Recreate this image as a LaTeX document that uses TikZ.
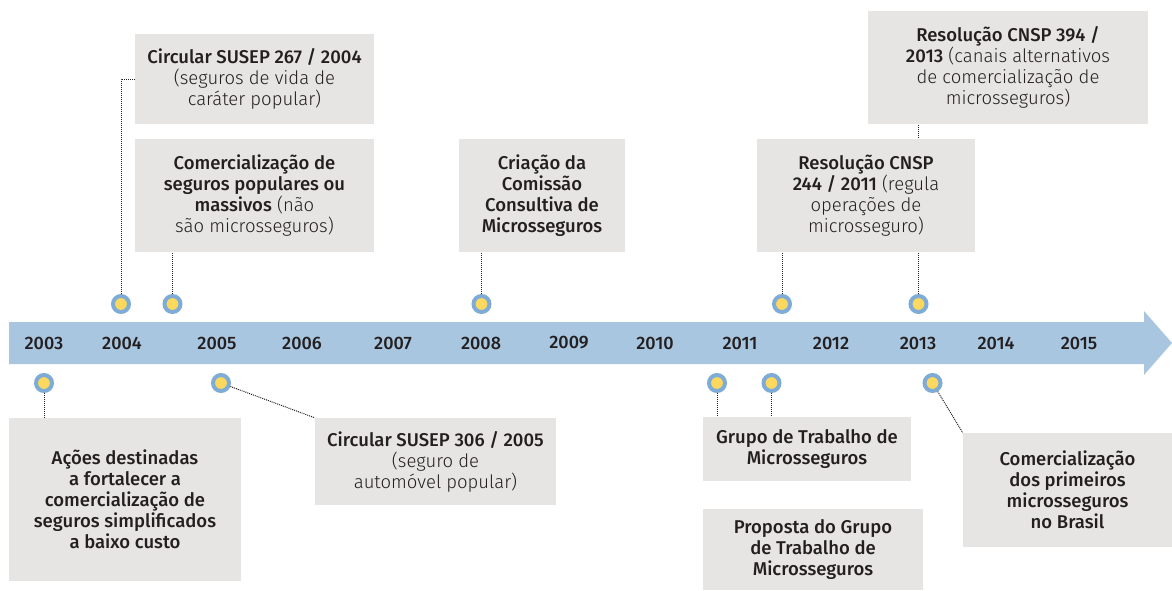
\documentclass[tikz,border=0pt]{standalone}
\usepackage{fontspec}
\setmainfont{Fira Sans}[UprightFont={Fira Sans Light}, BoldFont={Fira Sans Medium}]
\usepackage{xcolor}
\usepackage{tikz}
\usetikzlibrary{positioning, arrows.meta}
\definecolor{bandblue}{HTML}{A9C6E0}
\definecolor{ringblue}{HTML}{7FACD6}
\definecolor{dotyellow}{HTML}{FCD95E}
\definecolor{boxgray}{HTML}{E6E5E3}
\definecolor{inkdark}{HTML}{231F20}

\tikzset{
  infobox/.style={fill=boxgray, inner sep=0pt, align=center, text=inkdark,
    font=\fontsize{18.5pt}{21pt}\selectfont},
  eventdot/.style={circle, fill=dotyellow, draw=ringblue, line width=4pt,
    minimum size=16pt, inner sep=0pt},
  yearlabel/.style={text=inkdark, font=\bfseries\fontsize{18pt}{20pt}\selectfont},
  leader/.style={inkdark, line width=1pt, dash pattern=on 1pt off 1pt}
}

\begin{document}
\begin{tikzpicture}[x=1pt, y=-1pt]
    \useasboundingbox (0,0) rectangle (1172,590);

    % timeline band
    \fill[bandblue] (9,322) -- (1144,322) -- (1144,311) -- (1172,343)
      -- (1144,375) -- (1144,364) -- (9,364) -- cycle;
    \foreach \x/\yr in {44/2003, 122/2004, 217/2005, 302/2006, 393/2007,
      481/2008, 569/2009, 655/2010, 740/2011, 831/2012, 918/2013,
      996/2014, 1079/2015}
      \node[yearlabel] (y\yr) at (\x,343) {\yr};

    % events above the band
    \node[eventdot] (d267) at (121,304) {};
    \node[eventdot] (dcom) at (172.5,304) {};
    \node[eventdot] (dcri) at (481.5,304) {};
    \node[eventdot] (d244) at (782,304) {};
    \node[eventdot] (d394) at (918.5,304) {};

    \node[infobox, minimum width=280pt, minimum height=113pt] (b394) at (1008,67.5) {%
      \textbf{Resolução CNSP 394 /}\\
      \textbf{2013} (canais alternativos\\
      de comercialização de\\
      microsseguros)};
    \draw[leader] (d394.north) -- (d394 |- b394.south);

    \node[infobox, minimum width=239pt, minimum height=90pt] (b267) at (254.5,79) {%
      \textbf{Circular SUSEP 267 / 2004}\\
      (seguros de vida de\\
      caráter popular)};
    \node[infobox, minimum width=239pt, minimum height=113pt] (bcom) at (254.5,195.5) {%
      \textbf{Comercialização de}\\
      \textbf{seguros populares ou}\\
      \textbf{massivos} (não\\
      são microsseguros)};
    \node[infobox, minimum width=166pt, minimum height=113pt] (bcri) at (542,195.5) {%
      \textbf{Criação da}\\
      \textbf{Comissão}\\
      \textbf{Consultiva de}\\
      \textbf{Microsseguros}};
    \node[infobox, minimum width=218pt, minimum height=113pt] (b244) at (866,195.5) {%
      \textbf{Resolução CNSP}\\
      \textbf{244 / 2011} (regula\\
      operações de\\
      microsseguro)};

    \draw[leader] (d267.north) |- (b267.west);
    \draw[leader] (dcom.north) -- (dcom |- bcom.south);
    \draw[leader] (dcri.north) -- (dcri |- bcri.south);
    \draw[leader] (d244.north) -- (d244 |- b244.south);

    % events below the band
    \node[eventdot] (dacoes) at (44,383) {};
    \node[eventdot] (d306) at (221,383) {};
    \node[eventdot] (dgrupo) at (717,383) {};
    \node[eventdot] (dprop) at (771.5,383) {};
    \node[eventdot] (dprim) at (932.5,383) {};

    \node[infobox, minimum width=232pt, minimum height=163pt] (bacoes) at (125,499.5) {%
      \textbf{Ações destinadas}\\
      \textbf{a fortalecer a}\\
      \textbf{comercialização de}\\
      \textbf{seguros simplificados}\\
      \textbf{a baixo custo}};
    \node[infobox, minimum width=241pt, minimum height=87pt] (b306) at (435.5,461.5) {%
      \textbf{Circular SUSEP 306 / 2005}\\
      (seguro de\\
      automóvel popular)};
    \node[infobox, minimum width=208pt, minimum height=64pt] (bgrupo) at (807,449) {%
      \textbf{Grupo de Trabalho de}\\
      \textbf{Microsseguros}};
    \node[infobox, minimum width=220pt, minimum height=81pt] (bprop) at (813,549.5) {%
      \textbf{Proposta do Grupo}\\
      \textbf{de Trabalho de}\\
      \textbf{Microsseguros}};
    \node[infobox, minimum width=209pt, minimum height=114pt] (bprim) at (1067.5,490) {%
      \textbf{Comercialização}\\
      \textbf{dos primeiros}\\
      \textbf{microsseguros}\\
      \textbf{no Brasil}};

    \draw[leader] (dacoes.south) -- (dacoes |- bacoes.north);
    \draw[leader] (d306) -- (b306.north west);
    \draw[leader] (dgrupo.south) -- (dgrupo |- bgrupo.north);
    \draw[leader] (dprop.south) -- (dprop |- bgrupo.north);
    \draw[leader] (dprim) -- (bprim.north west);
\end{tikzpicture}
\end{document}
